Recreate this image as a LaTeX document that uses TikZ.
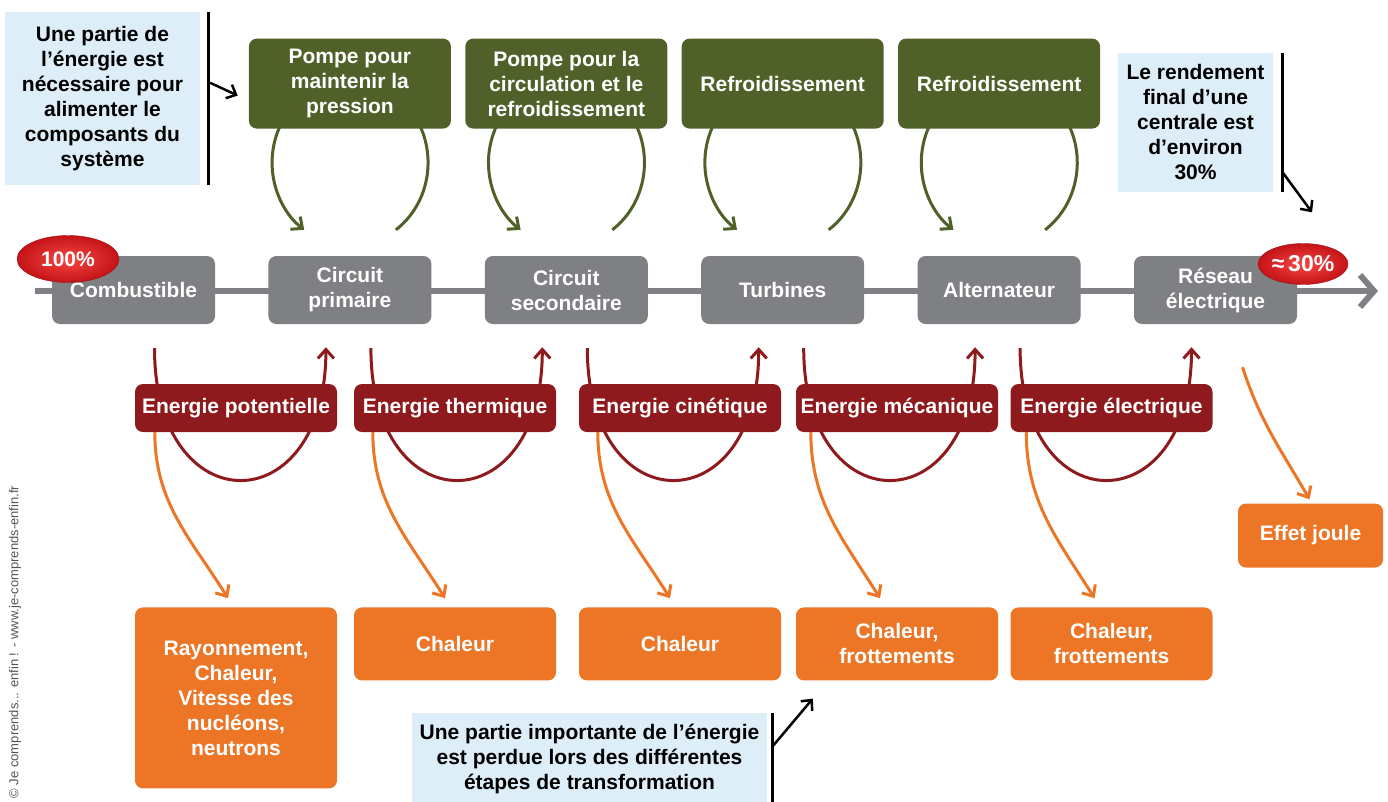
\documentclass[tikz,border=0pt]{standalone}
\usepackage{fontspec}
\setmainfont{Liberation Sans}
\usetikzlibrary{positioning}
\usetikzlibrary{shapes.geometric}
\usetikzlibrary{arrows.meta}
\usetikzlibrary{backgrounds}

\definecolor{stepgray}{RGB}{127,128,132}
\definecolor{pumpgreen}{RGB}{79,97,40}
\definecolor{energyred}{RGB}{142,26,29}
\definecolor{lossorange}{RGB}{236,118,38}
\definecolor{noteblue}{RGB}{221,238,249}
\definecolor{badgelight}{RGB}{246,70,66}
\definecolor{badgedark}{RGB}{196,20,24}
\definecolor{creditgray}{RGB}{85,85,85}

\begin{document}
\begin{tikzpicture}
[x=1pt,y=1pt,
 every node/.style={font=\fontsize{21}{25}\selectfont\bfseries,align=center},
 stepnode/.style={shape=rectangle,rounded corners=8pt,fill=stepgray,text=white,minimum width=163pt,minimum height=68pt,inner sep=0pt},
 pumpnode/.style={stepnode,fill=pumpgreen,minimum width=202pt,minimum height=90pt},
 energynode/.style={stepnode,fill=energyred,minimum width=202pt,minimum height=48pt},
 lossnode/.style={stepnode,fill=lossorange,minimum width=202pt,minimum height=73pt},
 notenode/.style={shape=rectangle,fill=noteblue,text=black,inner sep=0pt},
 badge/.style={shape=ellipse,draw=badgedark!80!black,thin,inner color=badgelight,outer color=badgedark,text=white,inner sep=0pt},
 flowline/.style={stepgray,line width=6pt,-{Straight Barb[length=14pt,width=32pt]}},
 pumparrow/.style={pumpgreen,line width=3pt,-{Straight Barb[length=9pt,width=16pt]}},
 energyarrow/.style={energyred,line width=3pt,-{Straight Barb[length=9pt,width=16pt]}},
 lossarrow/.style={lossorange,line width=3pt,-{Straight Barb[length=9pt,width=16pt]}},
 noteline/.style={black,line width=3pt},
 notearrow/.style={black,line width=2.5pt,-{Straight Barb[length=8pt,width=15pt]}}]

\useasboundingbox (0,0) rectangle (1388,-801);

\node (g1) [stepnode] at (133.5,-290) {Combustible};
\node (g2) [stepnode,right=53pt of g1] {Circuit\\primaire};
\node (g3) [stepnode,right=53pt of g2] {Circuit\\secondaire};
\node (g4) [stepnode,right=53pt of g3] {Turbines};
\node (g5) [stepnode,right=53pt of g4] {Alternateur};
\node (g6) [stepnode,right=53pt of g5] {Réseau\\électrique};

\node (p1) [pumpnode,above=127pt of g2] {Pompe pour\\maintenir la\\pression};
\node (p2) [pumpnode,above=127pt of g3] {Pompe pour la\\circulation et le\\refroidissement};
\node (p3) [pumpnode,above=127pt of g4] {Refroidissement};
\node (p4) [pumpnode,above=127pt of g5] {Refroidissement};

\node (e1) [energynode] at (236,-408) {Energie potentielle};
\node (e2) [energynode] at (455,-408) {Energie thermique};
\node (e3) [energynode] at (680,-408) {Energie cinétique};
\node (e4) [energynode] at (897,-408) {Energie mécanique};
\node (e5) [energynode] at (1111.5,-408) {Energie électrique};

\node (l1) [lossnode,minimum height=181pt,below=175pt of e1] {Rayonnement,\\Chaleur,\\Vitesse des\\nucléons,\\neutrons};
\node (l2) [lossnode,below=175pt of e2] {Chaleur};
\node (l3) [lossnode,below=175pt of e3] {Chaleur};
\node (l4) [lossnode,below=175pt of e4] {Chaleur,\\frottements};
\node (l5) [lossnode,below=175pt of e5] {Chaleur,\\frottements};
\node (joule) [lossnode,minimum width=145pt,minimum height=64pt] at (1310.5,-535.5) {Effet joule};

\node (n1) [notenode,minimum width=195pt,minimum height=173pt] at (102.5,-98.5)
	{Une partie de\\l’énergie est\\nécessaire pour\\alimenter le\\composants du\\système};
\node (n2) [notenode,minimum width=155pt,minimum height=139pt] at (1195.5,-122.5)
	{Le rendement\\final d’une\\centrale est\\d’environ\\30\%};
\node (n3) [notenode,minimum width=355pt,minimum height=92pt] at (589.5,-759)
	{Une partie importante de l’énergie\\est perdue lors des différentes\\étapes de transformation};

\node (pct100) [badge,minimum width=102pt,minimum height=47pt] at (68,-259) {100\%};
\node (pct30) [badge,minimum width=90pt,minimum height=41pt,font=\fontsize{23}{27}\selectfont\bfseries] at (1303,-264) {≈\,30\%};

\node (credit) [rotate=90,text=creditgray,font=\fontsize{13}{15}\selectfont] at (15,-642)
	{© Je comprends... enfin ! - www.je-comprends-enfin.fr};

\coordinate (flowstart) at (35,-291);
\coordinate (flowend) at (1378,-291);

\begin{scope}[on background layer]
\draw [flowline] (flowstart) -- (flowend);
\draw [pumparrow] ([xshift=46pt,yshift=26pt]g2.north) arc[start angle=-54,end angle=234,x radius=78pt,y radius=83pt];
\draw [pumparrow] ([xshift=46pt,yshift=26pt]g3.north) arc[start angle=-54,end angle=234,x radius=78pt,y radius=83pt];
\draw [pumparrow] ([xshift=46pt,yshift=26pt]g4.north) arc[start angle=-54,end angle=234,x radius=78pt,y radius=83pt];
\draw [pumparrow] ([xshift=46pt,yshift=26pt]g5.north) arc[start angle=-54,end angle=234,x radius=78pt,y radius=83pt];
\draw [energyarrow] ([xshift=21pt,yshift=-24pt]g1.south) .. controls +(0,-176) and +(0,-177) .. ([xshift=-24pt,yshift=-23pt]g2.south);
\draw [energyarrow] ([xshift=21pt,yshift=-24pt]g2.south) .. controls +(0,-176) and +(0,-177) .. ([xshift=-24pt,yshift=-23pt]g3.south);
\draw [energyarrow] ([xshift=21pt,yshift=-24pt]g3.south) .. controls +(0,-176) and +(0,-177) .. ([xshift=-24pt,yshift=-23pt]g4.south);
\draw [energyarrow] ([xshift=21pt,yshift=-24pt]g4.south) .. controls +(0,-176) and +(0,-177) .. ([xshift=-24pt,yshift=-23pt]g5.south);
\draw [energyarrow] ([xshift=21pt,yshift=-24pt]g5.south) .. controls +(0,-176) and +(0,-177) .. ([xshift=-24pt,yshift=-23pt]g6.south);
\end{scope}

\draw [lossarrow] ([xshift=20pt]e1.south west) to[out=-90,in=122] ([xshift=-8pt,yshift=9pt]l1.north);
\draw [lossarrow] ([xshift=19pt]e2.south west) to[out=-90,in=122] ([xshift=-10pt,yshift=9pt]l2.north);
\draw [lossarrow] ([xshift=19pt]e3.south west) to[out=-90,in=122] ([xshift=-10pt,yshift=9pt]l3.north);
\draw [lossarrow] ([xshift=15pt]e4.south west) to[out=-90,in=122] ([xshift=-17pt,yshift=9pt]l4.north);
\draw [lossarrow] ([xshift=16pt]e5.south west) to[out=-90,in=122] ([xshift=-17pt,yshift=9pt]l5.north);
\draw [lossarrow] ([xshift=27pt,yshift=-43pt]g6.south) to[out=-72,in=120] ([xshift=-1pt,yshift=4pt]joule.north);

\draw [noteline] ([xshift=8pt]n1.north east) -- ([xshift=8pt]n1.south east);
\draw [notearrow] ([xshift=10pt,yshift=-71pt]n1.north east) -- ([xshift=-11pt,yshift=-12pt]p1.west);
\draw [noteline] ([xshift=9pt]n2.north east) -- ([xshift=9pt]n2.south east);
\draw [notearrow] ([xshift=9pt,yshift=-119pt]n2.north east) -- ([xshift=9pt,yshift=31pt]pct30.north);
\draw [noteline] ([xshift=5pt]n3.north east) -- ([xshift=5pt]n3.south east);
\draw [notearrow] ([xshift=5pt,yshift=-34pt]n3.north east) -- ([xshift=17pt,yshift=-18pt]l4.south west);
\end{tikzpicture}
\end{document}
